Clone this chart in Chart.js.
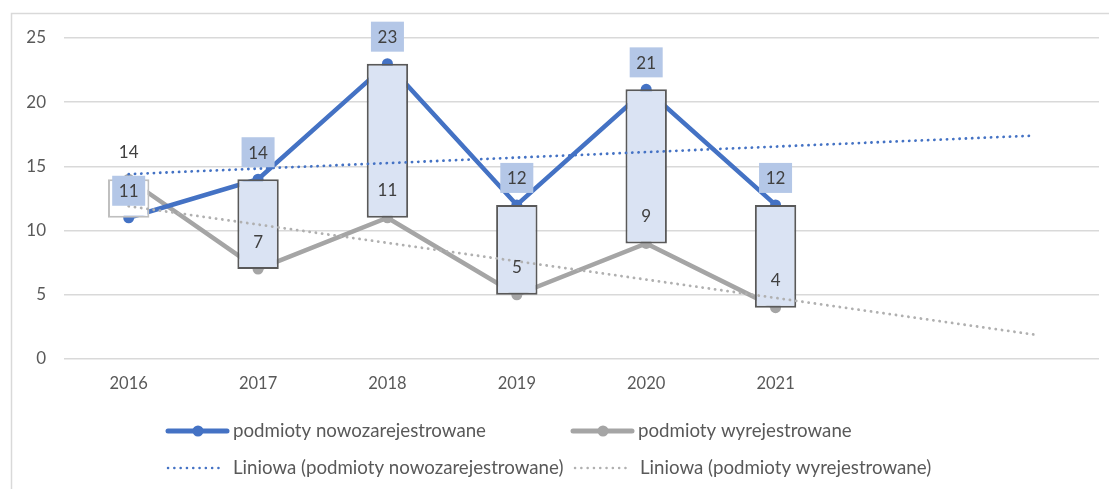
<!DOCTYPE html>
<html>
<head>
<meta charset="utf-8">
<script src="https://cdn.jsdelivr.net/npm/chart.js@4"></script>
<style>
  body { margin: 0; background: #fff; }
  #wrap { width: 1109px; height: 489px; }
</style>
</head>
<body>
<div id="wrap"><canvas id="lineChart" width="1109" height="489"></canvas></div>
<script>
// categories (two empty slots at the end carry the trend forecast)
var years = ["2016", "2017", "2018", "2019", "2020", "2021"];
var axisLabels = ["2016", "2017", "2018", "2019", "2020", "2021", "", ""];

// series values
var newlyRegistered = [11, 14, 23, 12, 21, 12];
var deregistered = [14, 7, 11, 5, 9, 4];

// linear trend lines, read at 2016 and at the end of the forecast
var trendNew = [14.4, 17.4];
var trendDereg = [11.9, 1.9];

var yTicks = [0, 5, 10, 15, 20, 25];

var seriesNames = ["podmioty nowozarejestrowane", "podmioty wyrejestrowane",
  "Liniowa (podmioty nowozarejestrowane)", "Liniowa (podmioty wyrejestrowane)"];

var blue = "#4472c4";
var grey = "#a5a5a5";
var textColor = "#595959";
var fontFamily = "Lato, 'Liberation Sans', sans-serif";

function trendData(ends) {
  var d = axisLabels.map(function () { return null; });
  d[0] = ends[0];
  d[d.length - 1] = ends[1];
  return d;
}

var upDown = years.map(function (y, i) {
  return [Math.min(newlyRegistered[i], deregistered[i]), Math.max(newlyRegistered[i], deregistered[i])];
});
var isUp = years.map(function (y, i) { return deregistered[i] > newlyRegistered[i]; });

var framePlugin = {
  id: "frame",
  beforeDraw: function (chart) {
    var ctx = chart.ctx;
    ctx.save();
    ctx.strokeStyle = "#d9d9d9";
    ctx.lineWidth = 1.5;
    ctx.beginPath();
    ctx.moveTo(11.5, 489);
    ctx.lineTo(11.5, 13.5);
    ctx.lineTo(1109, 13.5);
    ctx.stroke();
    ctx.restore();
  }
};

var labelPlugin = {
  id: "pointLabels",
  afterDatasetsDraw: function (chart) {
    var ctx = chart.ctx;
    ctx.save();
    ctx.font = "17px " + fontFamily;
    ctx.textAlign = "center";
    ctx.textBaseline = "middle";

    var greyMeta = chart.getDatasetMeta(2);
    greyMeta.data.forEach(function (pt, i) {
      ctx.fillStyle = "#404040";
      ctx.fillText(String(deregistered[i]), pt.x, pt.y - 27);
    });

    var blueMeta = chart.getDatasetMeta(1);
    blueMeta.data.forEach(function (pt, i) {
      var cy = pt.y - 27;
      ctx.fillStyle = "#b4c7e7";
      ctx.fillRect(pt.x - 16.5, cy - 15, 33, 30);
      ctx.fillStyle = "#404040";
      ctx.fillText(String(newlyRegistered[i]), pt.x, cy + 1);
    });
    ctx.restore();
  }
};

var legendPlugin = {
  id: "customLegend",
  afterDraw: function (chart) {
    var ctx = chart.ctx;
    ctx.save();
    ctx.font = "18.7px " + fontFamily;
    ctx.textBaseline = "middle";
    ctx.textAlign = "left";

    var rows = [
      { x: 168, y: 431, color: blue, dotted: false, name: seriesNames[0] },
      { x: 573, y: 431, color: grey, dotted: false, name: seriesNames[1] },
      { x: 168, y: 468, color: blue, dotted: true, name: seriesNames[2] },
      { x: 575, y: 468, color: "#b0b0b0", dotted: true, name: seriesNames[3] }
    ];
    rows.forEach(function (r) {
      ctx.strokeStyle = r.color;
      ctx.lineCap = "round";
      if (r.dotted) {
        ctx.lineWidth = 2.5;
        ctx.setLineDash([0.1, 6.2]);
        ctx.beginPath();
        ctx.moveTo(r.x, r.y);
        ctx.lineTo(r.x + 55, r.y);
        ctx.stroke();
        ctx.setLineDash([]);
      } else {
        ctx.lineWidth = 5;
        ctx.beginPath();
        ctx.moveTo(r.x, r.y);
        ctx.lineTo(r.x + 59, r.y);
        ctx.stroke();
        ctx.fillStyle = r.color;
        ctx.beginPath();
        ctx.arc(r.x + 30, r.y, 5.5, 0, Math.PI * 2);
        ctx.fill();
      }
      ctx.fillStyle = textColor;
      ctx.fillText(r.name, r.x + 65, r.y);
    });
    ctx.restore();
  }
};

var ctx = document.getElementById("lineChart");

var lineChart = new Chart(ctx, {
  type: "bar",
  data: {
    labels: axisLabels,
    datasets: [
      {
        type: "bar",
        label: "up-down",
        data: upDown,
        backgroundColor: isUp.map(function (u) { return u ? "#ffffff" : "#dae3f3"; }),
        borderColor: isUp.map(function (u) { return u ? "#bfbfbf" : "#595959"; }),
        borderWidth: 2,
        borderSkipped: false,
        barPercentage: 0.32,
        categoryPercentage: 1,
        order: 1
      },
      {
        type: "line",
        label: seriesNames[0],
        data: newlyRegistered,
        borderColor: blue,
        backgroundColor: blue,
        borderWidth: 4.5,
        pointRadius: 5.5,
        pointBorderWidth: 0,
        tension: 0,
        order: 2
      },
      {
        type: "line",
        label: seriesNames[1],
        data: deregistered,
        borderColor: grey,
        backgroundColor: grey,
        borderWidth: 4.5,
        pointRadius: 5.5,
        pointBorderWidth: 0,
        tension: 0,
        order: 3
      },
      {
        type: "line",
        label: seriesNames[2],
        data: trendData(trendNew),
        spanGaps: true,
        borderColor: blue,
        borderWidth: 2.8,
        borderDash: [0.1, 6.2],
        borderCapStyle: "round",
        pointRadius: 0,
        order: 0
      },
      {
        type: "line",
        label: seriesNames[3],
        data: trendData(trendDereg),
        spanGaps: true,
        borderColor: "#b0b0b0",
        borderWidth: 2.8,
        borderDash: [0.1, 6.2],
        borderCapStyle: "round",
        pointRadius: 0,
        order: 0
      }
    ]
  },
  options: {
    responsive: false,
    animation: false,
    layout: { padding: { left: 0, top: 38, right: 10, bottom: 70 } },
    plugins: {
      legend: { display: false },
      tooltip: { enabled: false }
    },
    scales: {
      x: {
        grid: { display: false, drawTicks: false },
        border: { display: false },
        ticks: { color: textColor, font: { family: fontFamily, size: 16.5 }, padding: 15, maxRotation: 0, autoSkip: false },
        afterFit: function (scale) { scale.height = 60; }
      },
      y: {
        min: 0,
        max: 25,
        afterBuildTicks: function (scale) {
          scale.ticks = yTicks.map(function (v) { return { value: v }; });
        },
        grid: { color: "#d9d9d9", lineWidth: 1.5, drawTicks: false },
        border: { display: false },
        ticks: { color: textColor, font: { family: fontFamily, size: 17 }, padding: 18 },
        afterFit: function (scale) { scale.width = 64; }
      }
    }
  },
  plugins: [framePlugin, labelPlugin, legendPlugin]
});
</script>
</body>
</html>
